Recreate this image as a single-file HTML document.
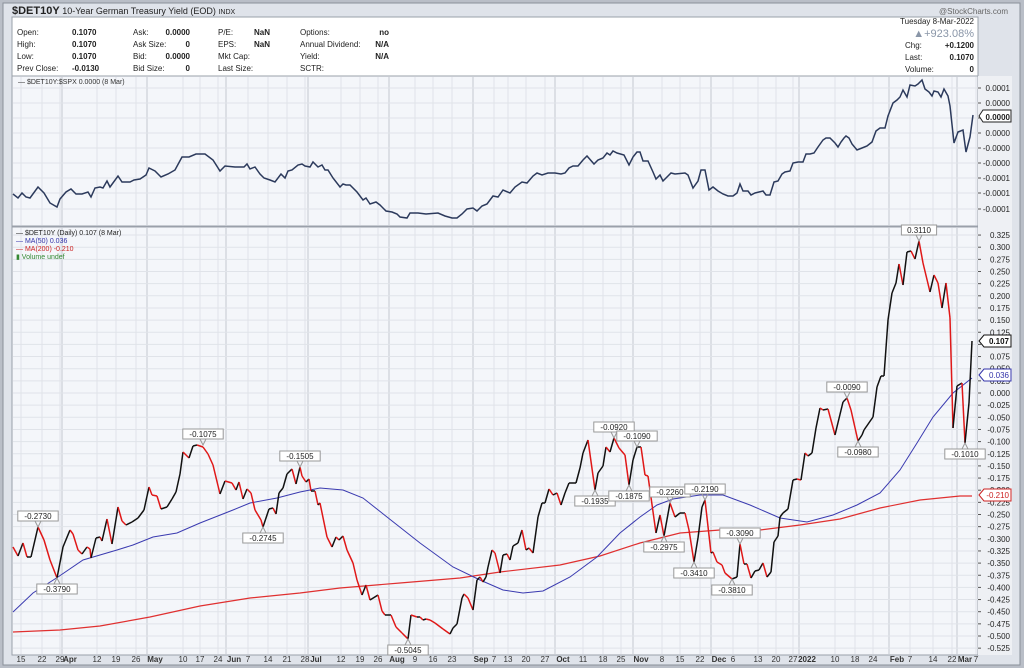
<!DOCTYPE html>
<html><head><meta charset="utf-8"><style>
body{margin:0;width:1024px;height:668px;background:#b9bec7;font-family:"Liberation Sans",sans-serif;overflow:hidden}
svg{position:absolute;left:0;top:0}
</style></head><body>
<svg id="s" width="1024" height="668" xmlns="http://www.w3.org/2000/svg" font-family="Liberation Sans, sans-serif"></svg>
<script>
(function(){
const s=document.getElementById('s');let h='';
function R(x,y,w,hh,f,st){h+=`<rect x="${x}" y="${y}" width="${w}" height="${hh}" fill="${f}" ${st?`stroke="${st}"`:''}/>`}
function T(x,y,t,o){o=o||{};h+=`<text x="${x}" y="${y}" font-size="${o.s||9}" fill="${o.c||'#222'}" ${o.w?'font-weight="bold"':''} ${o.a?`text-anchor="${o.a}"`:''}>${t}</text>`}
function L(x1,y1,x2,y2,c,w){h+=`<line x1="${x1}" y1="${y1}" x2="${x2}" y2="${y2}" stroke="${c}" stroke-width="${w||1}"/>`}
R(0,0,1024,668,'#b9bec7');
R(3,3,1017,662,'#dfe3ea','#8a909a');
T(12,14,'<tspan font-weight="bold" font-size="11">$DET10Y</tspan> 10-Year German Treasury Yield (EOD) <tspan font-size="7">INDX</tspan>',{s:9});
T(1008,14,'@StockCharts.com',{s:8,c:'#666',a:'end'});
R(12,17,966,59,'#ffffff','#9aa0aa');
const rows=[35,47,59,71];
const cols=[[17,'Open:','High:','Low:','Prev Close:'],[72,'0.1070','0.1070','0.1070','-0.0130'],[133,'Ask:','Ask Size:','Bid:','Bid Size:'],[218,'P/E:','EPS:','Mkt Cap:','Last Size:'],[300,'Options:','Annual Dividend:','Yield:','SCTR:']];
cols.forEach(c=>{for(let i=0;i<4;i++)T(c[0],rows[i],c[i+1],{s:8,w:c[0]==72});});
[['0.0000',190],['0',190],['0.0000',190],['0',190]].forEach((v,i)=>T(v[1],rows[i],v[0],{s:8,w:1,a:'end'}));
T(270,rows[0],'NaN',{s:8,w:1,a:'end'});T(270,rows[1],'NaN',{s:8,w:1,a:'end'});
T(389,rows[0],'no',{s:8,w:1,a:'end'});T(389,rows[1],'N/A',{s:8,w:1,a:'end'});T(389,rows[2],'N/A',{s:8,w:1,a:'end'});
T(974,24,'Tuesday  8-Mar-2022',{s:8,a:'end'});
T(974,37,'▲+923.08%',{s:11,c:'#8a96a8',a:'end'});
T(905,48,'Chg:',{s:8});T(974,48,'+0.1200',{s:8,w:1,a:'end'});
T(905,60,'Last:',{s:8});T(974,60,'0.1070',{s:8,w:1,a:'end'});
T(905,72,'Volume:',{s:8});T(974,72,'0',{s:8,w:1,a:'end'});
R(12,76,966,150,'#f4f6fa','#9aa0aa');
R(12,227,966,428,'#f4f6fa','#9aa0aa');
R(978,76,34,579,'#eef0f4');
const dates=[[21,'15'],[42,'22'],[60,'29'],[70,'Apr',1],[97,'12'],[116,'19'],[136,'26'],[155,'May',1],[183,'10'],[200,'17'],[218,'24'],[234,'Jun',1],[248,'7'],[268,'14'],[287,'21'],[305,'28'],[316,'Jul',1],[341,'12'],[360,'19'],[378,'26'],[397,'Aug',1],[415,'9'],[433,'16'],[452,'23'],[481,'Sep',1],[494,'7'],[508,'13'],[526,'20'],[545,'27'],[563,'Oct',1],[583,'11'],[603,'18'],[621,'25'],[641,'Nov',1],[662,'8'],[680,'15'],[700,'22'],[719,'Dec',1],[733,'6'],[758,'13'],[776,'20'],[793,'27'],[807,'2022',1],[835,'10'],[855,'18'],[873,'24'],[897,'Feb',1],[910,'7'],[933,'14'],[952,'22'],[965,'Mar',1],[976,'7']];
dates.forEach(d=>{const x=d[0]-(d[2]?8:0);const c=d[2]?'#c4c8d0':'#e0e3e9';L(x,77,x,225,c);L(x,228,x,654,c);T(d[0],662,d[1],{s:8,w:d[2],a:'middle',c:'#333'});});
const tl=[[88,'0.0001'],[103,'0.0000'],[118,''],[133,'0.0000'],[148,'-0.0000'],[163,'-0.0000'],[178,'-0.0001'],[193,'-0.0001'],[209,'-0.0001']];
tl.forEach(t=>{L(13,t[0],978,t[0],'#e0e3e9');L(978,t[0],981,t[0],'#555');T(1010,t[0]+3,t[1],{s:8,a:'end'});});
T(18,84,'— $DET10Y:$SPX 0.0000 (8 Mar)',{s:7,c:'#333'});
const Y=v=>393-v/0.025*12.15;
for(let i=-21;i<=13;i++){const v=i*0.025,y=Y(v);L(13,y,978,y,'#e0e3e9');L(978,y,981,y,'#555');T(1010,y+3,(v>=0?'':'-')+Math.abs(v).toFixed(3),{s:8,a:'end'});}
T(16,235,'— $DET10Y (Daily) 0.107 (8 Mar)',{s:7});
T(16,243,'— MA(50) 0.036',{s:7,c:'#33a'});
T(16,251,'— MA(200) -0.210',{s:7,c:'#c22'});
T(16,259,'▮ Volume undef',{s:7,c:'#383'});
const topLine=[[13,194],[18,198],[22,193],[26,197],[30,198],[38,187],[44,193],[50,203],[57,207],[60,199],[66,192],[71,189],[76,194],[82,194],[88,192],[91,197],[95,188],[100,187],[103,188],[107,181],[110,187],[118,176],[122,182],[130,182],[134,180],[140,179],[146,175],[149,168],[155,171],[161,177],[168,174],[175,170],[182,157],[189,157],[196,154],[205,154],[213,160],[220,171],[225,166],[235,167],[244,167],[247,164],[250,169],[255,167],[260,174],[264,178],[270,180],[275,182],[281,174],[285,178],[288,171],[292,170],[298,165],[302,164],[305,166],[310,167],[313,162],[318,167],[322,165],[325,170],[328,170],[333,178],[340,187],[343,184],[346,185],[350,185],[357,192],[363,200],[366,198],[370,204],[376,202],[380,205],[386,211],[392,212],[397,214],[400,217],[407,218],[410,213],[418,213],[426,214],[438,213],[445,216],[452,218],[457,218],[462,214],[467,209],[473,208],[477,211],[482,206],[487,204],[493,196],[498,197],[503,190],[510,193],[515,187],[522,182],[527,183],[533,176],[537,173],[542,175],[548,173],[555,173],[561,174],[565,173],[569,168],[573,166],[578,166],[583,160],[587,156],[594,164],[598,160],[603,158],[607,153],[610,155],[613,151],[617,153],[624,155],[629,165],[633,157],[637,152],[640,152],[643,161],[648,161],[653,172],[656,179],[660,175],[663,181],[668,176],[671,173],[675,174],[685,173],[688,175],[693,188],[698,181],[701,170],[705,170],[709,190],[713,187],[718,191],[723,194],[728,196],[733,196],[737,193],[740,184],[743,191],[748,191],[751,195],[755,193],[763,191],[766,195],[770,195],[774,182],[778,181],[782,174],[785,172],[790,171],[793,163],[798,162],[803,162],[806,154],[810,154],[814,153],[818,147],[823,140],[826,138],[830,138],[835,143],[838,147],[841,142],[844,138],[846,136],[849,138],[852,144],[857,150],[862,148],[867,146],[872,142],[876,131],[880,128],[885,128],[888,116],[893,103],[897,100],[900,97],[903,90],[907,97],[910,85],[915,86],[918,84],[922,80],[925,89],[929,92],[932,96],[934,91],[938,92],[941,97],[944,89],[948,96],[950,106],[954,143],[958,132],[963,130],[966,152],[970,137],[973,115]];
h+=`<polyline points="${topLine.map(p=>p.join(',')).join(' ')}" fill="none" stroke="#2c3a5c" stroke-width="1.5"/>`;
h+=`<path d="M979,116 l4,-6 h28 v12 h-28z" fill="#fff" stroke="#222"/>`;T(1010,120,'0.0000',{s:8,w:1,a:'end'});
const ma200=[[13,632],[60,630],[100,626],[150,617],[200,606],[250,598],[300,593],[340,588],[400,583],[460,578],[500,572],[560,565],[600,556],[640,543],[680,533],[720,530],[760,530],[800,525],[840,519],[880,508],[920,500],[960,496],[972,496]];
h+=`<polyline points="${ma200.map(p=>p.join(',')).join(' ')}" fill="none" stroke="#e03030" stroke-width="1.2"/>`;
const ma50=[[13,612],[33,593],[58,577],[83,560],[117,550],[133,545],[153,537],[177,533],[200,523],[233,510],[250,503],[277,498],[300,492],[320,488],[343,490],[363,498],[387,517],[420,543],[453,567],[480,580],[503,590],[523,593],[543,591],[570,577],[597,557],[620,533],[640,517],[657,505],[673,499],[700,495],[723,495],[750,505],[780,518],[807,522],[833,515],[857,505],[880,493],[900,470],[917,443],[933,417],[953,393],[972,378]];
h+=`<polyline points="${ma50.map(p=>p.join(',')).join(' ')}" fill="none" stroke="#3a3ab0" stroke-width="1"/>`;
const m=[[13,547],[18,556],[23,543],[27,557],[31,557],[38,527],[44,540],[50,560],[57,578],[63,547],[70,530],[73,534],[78,550],[82,554],[87,547],[90,549],[91,558],[96,538],[100,537],[102,541],[107,519],[112,544],[118,507],[122,521],[126,525],[132,522],[138,518],[144,510],[149,487],[152,495],[157,496],[161,509],[167,507],[172,499],[176,492],[180,474],[183,452],[189,458],[193,446],[197,445],[203,447],[208,454],[213,465],[220,494],[225,481],[232,483],[236,490],[239,482],[243,499],[247,489],[251,493],[255,510],[261,520],[263,527],[269,509],[273,508],[276,514],[279,493],[283,488],[287,474],[292,469],[296,484],[300,467],[302,476],[306,482],[309,479],[311,491],[315,491],[318,505],[320,503],[327,537],[332,547],[336,537],[339,540],[343,536],[347,550],[353,563],[357,580],[362,595],[366,585],[370,600],[378,595],[382,611],[385,615],[391,615],[396,627],[402,633],[408,639],[411,615],[417,617],[420,617],[423,620],[426,619],[430,620],[435,623],[443,629],[450,634],[453,628],[457,624],[462,598],[464,594],[468,598],[473,610],[477,580],[480,577],[483,582],[486,577],[488,567],[492,550],[495,553],[500,573],[503,555],[507,554],[510,560],[513,546],[518,543],[522,530],[526,550],[529,548],[533,553],[538,517],[542,503],[545,503],[549,489],[553,495],[557,493],[561,505],[565,493],[569,483],[576,483],[580,468],[583,453],[588,440],[595,490],[598,473],[603,466],[606,447],[610,452],[614,438],[619,448],[625,455],[629,485],[633,460],[637,447],[641,447],[645,475],[648,476],[656,533],[660,515],[664,536],[670,503],[675,517],[680,513],[685,513],[689,530],[694,562],[698,538],[702,507],[705,500],[711,553],[713,552],[717,562],[722,565],[725,573],[732,579],[737,577],[740,544],[744,564],[747,564],[751,578],[755,571],[759,570],[763,563],[767,577],[771,572],[774,542],[778,536],[780,517],[783,513],[788,509],[793,480],[797,479],[801,480],[805,453],[808,456],[812,453],[816,428],[820,408],[823,410],[828,409],[835,435],[843,402],[847,398],[851,410],[858,441],[862,435],[864,430],[873,417],[877,387],[881,376],[884,376],[888,320],[892,293],[896,283],[899,264],[903,285],[907,252],[911,251],[915,259],[919,241],[923,263],[930,292],[934,275],[938,283],[942,308],[946,283],[950,318],[953,428],[957,386],[962,383],[965,443],[969,403],[972,341]];
for(let i=1;i<m.length;i++){const a=m[i-1],b=m[i];L(a[0],a[1],b[0],b[1],b[1]>a[1]?'#e01818':'#111',1.5);}
function lab(x,y,t,up){const w=t.length*5.2+4;const by=up?y-16:y+6;h+=`<rect x="${x-w/2}" y="${by}" width="${w}" height="10" fill="#fff" stroke="#999"/>`;T(x,by+8,t,{s:8,a:'middle'});h+=`<path d="M${x-3},${up?y-6:y+6} L${x},${y} L${x+3},${up?y-6:y+6}" fill="none" stroke="#999"/>`;}
lab(38,527,'-0.2730',1);lab(57,578,'-0.3790',0);lab(203,445,'-0.1075',1);lab(263,527,'-0.2745',0);lab(300,467,'-0.1505',1);lab(408,639,'-0.5045',0);
lab(614,438,'-0.0920',1);lab(595,490,'-0.1935',0);lab(637,447,'-0.1090',1);lab(629,485,'-0.1875',0);lab(670,503,'-0.2260',1);lab(664,536,'-0.2975',0);lab(705,500,'-0.2190',1);lab(694,562,'-0.3410',0);lab(740,544,'-0.3090',1);lab(732,579,'-0.3810',0);lab(847,398,'-0.0090',1);lab(858,441,'-0.0980',0);lab(919,241,'0.3110',1);lab(965,443,'-0.1010',0);
function tag(y,t,c,b){h+=`<path d="M979,${y} l5,-6 h27 v12 h-27z" fill="#fff" stroke="${c}"/>`;T(1009,y+3,t,{s:8,w:b,c:c,a:'end'});}
tag(341,'0.107','#111',1);tag(375,'0.036','#33a',0);tag(495,'-0.210','#c22',0);
s.innerHTML=h;
})();
</script>
</body></html>
